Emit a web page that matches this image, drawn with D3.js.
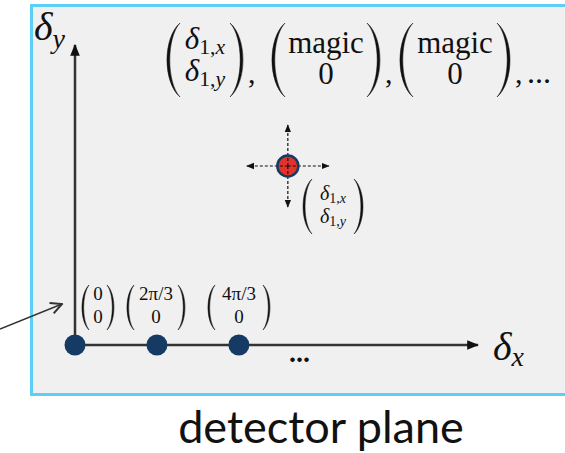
<!DOCTYPE html>
<html lang="en">
<head>
  <meta charset="UTF-8">
  <title>detector plane</title>
  <style>
    body { margin: 0; background: #fff; }
    svg { display: block; }
    .math { font-family: "Liberation Serif", "DejaVu Serif", serif; fill: #111; }
    .cap { font-family: Lato, "Open Sans", sans-serif; fill: #111; }
  </style>
</head>
<body>
  <svg id="chart" width="565" height="453"></svg>
  <script src="https://d3js.org/d3.v7.min.js"></script>
  <script>
    // phase grid points on the delta_x axis
    const gridX = [0, 2 * Math.PI / 3, 4 * Math.PI / 3];
    const gridTop = ["0", "2π/3", "4π/3"];
    const gridBottom = ["0", "0", "0"];

    // measured spot
    const spotX = [5.44];
    const spotY = [4.57];

    // sequence written at the top
    const seqTop = [["δ", "1,", "x"], "magic", "magic"];
    const seqBottom = [["δ", "1,", "y"], "0", "0"];

    const svg = d3.select("#chart");
    const x = d3.scaleLinear().domain([0, 10.3]).range([75, 478]);
    const y = d3.scaleLinear().domain([0, 7.66]).range([345, 45]);

    // panel
    svg.append("rect")
      .attr("x", 31.5).attr("y", 5.5).attr("width", 600).attr("height", 389)
      .attr("fill", "#f0f0f0").attr("stroke", "#5ccff6").attr("stroke-width", 3);

    const defs = svg.append("defs");
    defs.append("marker").attr("id", "tri")
      .attr("viewBox", "0 0 10 10").attr("refX", 9).attr("refY", 5)
      .attr("markerWidth", 12).attr("markerHeight", 12).attr("markerUnits", "userSpaceOnUse")
      .attr("orient", "auto")
      .append("path").attr("d", "M0,1 L10,5 L0,9 Z").attr("fill", "#111");
    defs.append("marker").attr("id", "small")
      .attr("viewBox", "0 0 10 10").attr("refX", 9).attr("refY", 5)
      .attr("markerWidth", 8).attr("markerHeight", 8).attr("markerUnits", "userSpaceOnUse")
      .attr("orient", "auto")
      .append("path").attr("d", "M0,1 L10,5 L0,9 Z").attr("fill", "#111");
    defs.append("marker").attr("id", "open")
      .attr("viewBox", "0 0 10 10").attr("refX", 9).attr("refY", 5)
      .attr("markerWidth", 14).attr("markerHeight", 14).attr("markerUnits", "userSpaceOnUse")
      .attr("orient", "auto")
      .append("path").attr("d", "M1,1 L9,5 L1,9").attr("fill", "none")
      .attr("stroke", "#333").attr("stroke-width", 1.4);

    // axes
    svg.append("line")
      .attr("x1", x(0)).attr("y1", y(0)).attr("x2", x(0)).attr("y2", y(7.66))
      .attr("stroke", "#333").attr("stroke-width", 2.5).attr("marker-end", "url(#tri)");
    svg.append("line")
      .attr("x1", x(0)).attr("y1", y(0)).attr("x2", x(10.3)).attr("y2", y(0))
      .attr("stroke", "#333").attr("stroke-width", 2.5).attr("marker-end", "url(#tri)");

    // incoming arrow at the left
    svg.append("line")
      .attr("x1", 0).attr("y1", 329).attr("x2", 62).attr("y2", 304)
      .attr("stroke", "#333").attr("stroke-width", 1.4).attr("marker-end", "url(#open)");

    // helpers
    function paren(g, x0, top, bot, dir, w) {
      const h = bot - top, t = Math.max(1.3, h * 0.036);
      const xe = x0 + dir * w;
      const xc = x0 - dir * w / 3;
      g.append("path")
        .attr("d", `M${xe},${top} C${xc},${top + h * 0.2} ${xc},${top + h * 0.8} ${xe},${bot}`
          + ` C${xc + dir * t * 1.4},${top + h * 0.8} ${xc + dir * t * 1.4},${top + h * 0.2} ${xe},${top} Z`)
        .attr("fill", "#111").attr("stroke", "#111").attr("stroke-width", 0.5);
    }
    function entry(g, cx, by, v, fs) {
      const t = g.append("text").attr("class", "math")
        .attr("x", cx).attr("y", by).attr("text-anchor", "middle").attr("font-size", fs);
      if (Array.isArray(v)) {
        t.append("tspan").attr("font-style", "italic").text(v[0]);
        t.append("tspan").attr("font-size", fs * 0.7).attr("dy", fs * 0.18).text(v[1]);
        t.append("tspan").attr("font-size", fs * 0.7).attr("font-style", "italic").text(v[2]);
      } else {
        t.text(v);
      }
    }
    function vec(g, cx, top, bot, halfW, a, b, fs, pw, r1, r2) {
      paren(g, cx - halfW, top, bot, 1, pw);
      paren(g, cx + halfW, top, bot, -1, pw);
      const h = bot - top;
      const dyA = Array.isArray(a) ? -fs * 0.12 : 0;
      const dyB = Array.isArray(b) ? -fs * 0.12 : 0;
      entry(g, cx, top + h * r1 + dyA, a, fs);
      entry(g, cx, top + h * r2 + dyB, b, fs);
    }

    // top sequence
    const seq = svg.append("g");
    const seqCx = [205, 326, 455];
    const seqHalf = [38, 54, 55];
    seqTop.forEach((v, i) => {
      vec(seq, seqCx[i], 23, 97, seqHalf[i], v, seqBottom[i], 31, 13, 0.4, 0.83);
      seq.append("text").attr("class", "math").attr("font-size", 30)
        .attr("x", seqCx[i] + seqHalf[i] + 5).attr("y", 83).text(",");
    });
    seq.append("text").attr("class", "math").attr("font-size", 32)
      .attr("x", 527).attr("y", 83).text("...");

    // grid points with their labels
    const grid = svg.append("g");
    const gridCx = [98, 156, 239];
    const gridHalf = [16, 29, 31];
    gridX.forEach((v, i) => {
      vec(grid, gridCx[i], 285, 330, gridHalf[i], gridTop[i], gridBottom[i], 19, 7, 0.34, 0.84);
    });
    grid.selectAll("circle")
      .data(gridX)
      .join("circle")
      .attr("cx", d => x(d)).attr("cy", y(0)).attr("r", 10.5)
      .attr("fill", "#153a63");
    grid.append("text").attr("class", "math").attr("font-size", 28)
      .attr("font-weight", "bold").attr("x", 289).attr("y", 362).text("...");

    // spot with dashed arrows
    const spot = svg.append("g");
    const sx = x(spotX[0]), sy = y(spotY[0]);
    [[-41, 0], [41, 0], [0, -41], [0, 41]].forEach(([dx, dy]) => {
      spot.append("line")
        .attr("x1", sx).attr("y1", sy).attr("x2", sx + dx).attr("y2", sy + dy)
        .attr("stroke", "#111").attr("stroke-width", 1.2).attr("stroke-dasharray", "3,2")
        .attr("marker-end", "url(#small)");
    });
    spot.selectAll("circle")
      .data(spotX)
      .join("circle")
      .attr("cx", d => x(d)).attr("cy", (d, i) => y(spotY[i])).attr("r", 10.5)
      .attr("fill", "#e3322b").attr("stroke", "#153a63").attr("stroke-width", 2.5);
    [[-10, 0], [10, 0], [0, -10], [0, 10]].forEach(([dx, dy]) => {
      spot.append("line")
        .attr("x1", sx).attr("y1", sy).attr("x2", sx + dx).attr("y2", sy + dy)
        .attr("stroke", "#111").attr("stroke-width", 1.2).attr("stroke-dasharray", "3,2");
    });
    vec(spot, 333, 179, 234, 30, ["δ", "1,", "x"], ["δ", "1,", "y"], 20, 9, 0.42, 0.84);

    // axis labels
    const ly = svg.append("text").attr("class", "math").attr("x", 34).attr("y", 40).attr("font-size", 40);
    ly.append("tspan").attr("font-style", "italic").text("δ");
    ly.append("tspan").attr("font-style", "italic").attr("font-size", 28).attr("dy", 8).text("y");
    const lx = svg.append("text").attr("class", "math").attr("x", 493).attr("y", 360).attr("font-size", 40);
    lx.append("tspan").attr("font-style", "italic").text("δ");
    lx.append("tspan").attr("font-style", "italic").attr("font-size", 28).attr("dy", 6).text("x");

    svg.append("text").attr("class", "cap")
      .attr("x", 321).attr("y", 443).attr("text-anchor", "middle").attr("font-size", 45)
      .text("detector plane");
  </script>
</body>
</html>
